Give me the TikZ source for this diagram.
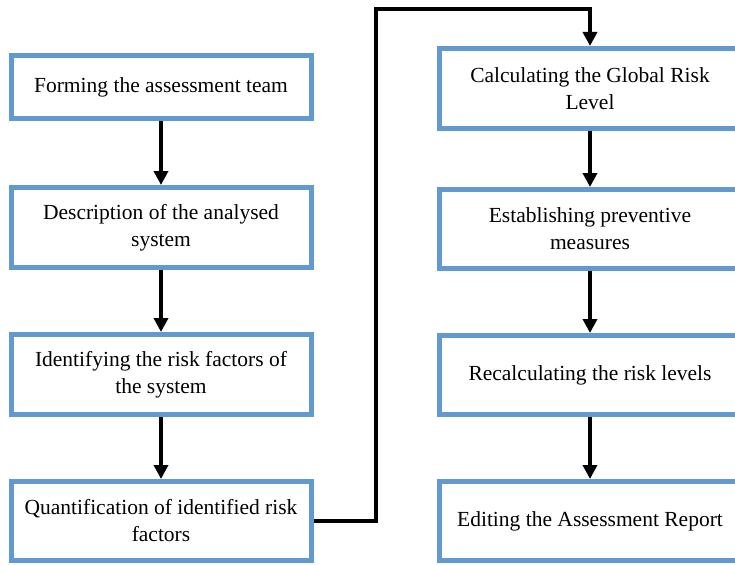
\documentclass[tikz,border=0pt]{standalone}
\usepackage{fontspec}
\setmainfont{Liberation Serif}
\usetikzlibrary{arrows.meta}
\definecolor{boxblue}{RGB}{98,153,207}
\tikzset{
  stepbox/.style={draw=boxblue, line width=5pt, rectangle, fill=white,
    align=center, inner sep=0pt, font=\fontsize{21.5}{27}\selectfont},
  lbox/.style={stepbox, minimum width=300pt},
  rbox/.style={stepbox, minimum width=301pt},
  flow/.style={line width=3.8pt, -{Triangle[length=14pt,width=14pt]}},
}
\begin{document}
\begin{tikzpicture}[x=1pt,y=-1pt]
\useasboundingbox (0,0) rectangle (735,564);
\node[lbox, minimum height=63pt] (L1) at (161,87.5) {Forming the assessment team};
\node[lbox, minimum height=80pt] (L2) at (161,227.5) {Description of the analysed\\system};
\node[lbox, minimum height=80pt] (L3) at (161,374.5) {Identifying the risk factors of\\the system};
\node[lbox, minimum height=79pt] (L4) at (161,521) {Quantification of identified risk\\factors};
\node[rbox, minimum height=80pt] (R1) at (590,88.5) {Calculating the Global Risk\\Level};
\node[rbox, minimum height=79pt] (R2) at (590,229) {Establishing preventive\\measures};
\node[rbox, minimum height=79pt] (R3) at (590,375) {Recalculating the risk levels};
\node[rbox, minimum height=79pt] (R4) at (590,521) {Editing the Assessment Report};
\coordinate (top) at (376,9);
\draw[flow] (L1) -- (L2);
\draw[flow] (L2) -- (L3);
\draw[flow] (L3) -- (L4);
\draw[flow] (R1) -- (R2);
\draw[flow] (R2) -- (R3);
\draw[flow] (R3) -- (R4);
\draw[flow] (L4.east) -| (top) -| (R1.north);
\end{tikzpicture}
\end{document}
